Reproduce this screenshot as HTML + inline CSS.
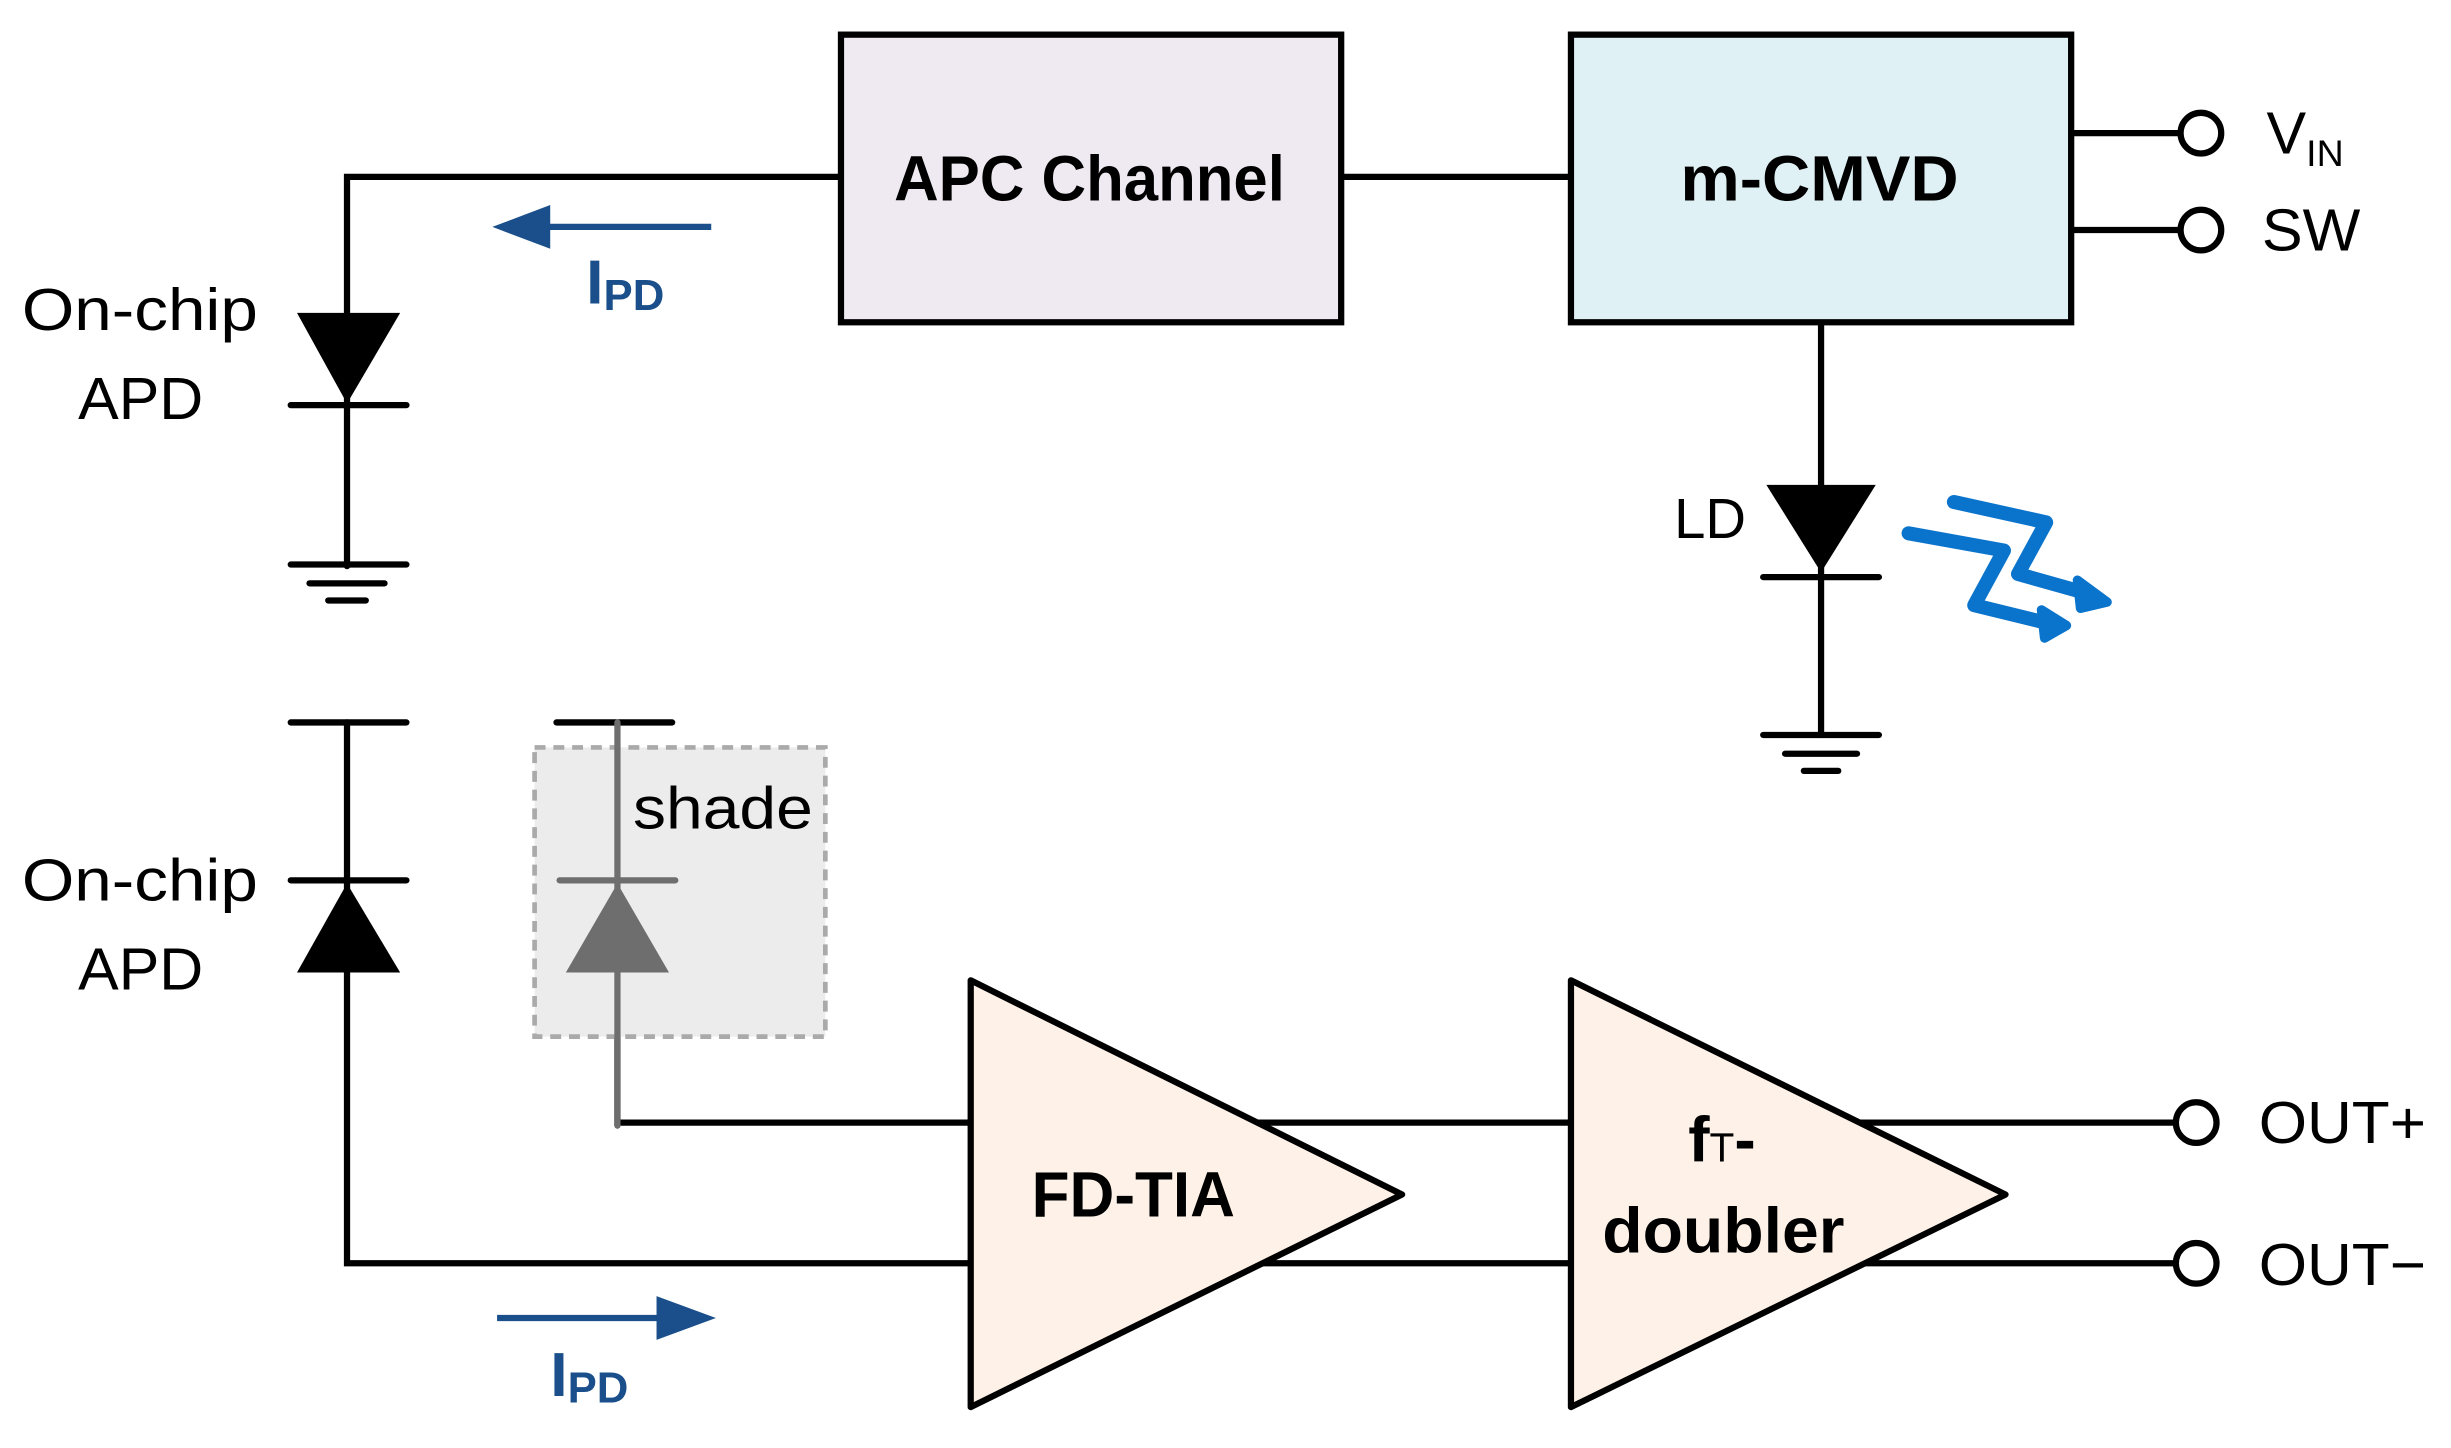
<!DOCTYPE html>
<html><head><meta charset="utf-8"><style>html,body{margin:0;padding:0;background:#fff}svg{display:block}</style></head><body>
<svg width="2451" height="1448" viewBox="0 0 1568 926" xmlns="http://www.w3.org/2000/svg" font-family="'Liberation Sans','DejaVu Sans',sans-serif">
<g stroke="#000" stroke-width="4" fill="none" stroke-linecap="round">
<polyline points="538,113 222,113 222,362"/>
<line x1="858" y1="113" x2="1005" y2="113"/>
<line x1="1325" y1="85" x2="1395" y2="85"/>
<line x1="1325" y1="147" x2="1395" y2="147"/>
<line x1="1165" y1="206" x2="1165" y2="470"/>
<line x1="186" y1="259" x2="260" y2="259"/>
<line x1="186" y1="361" x2="260" y2="361"/>
<line x1="198" y1="373" x2="246" y2="373"/>
<line x1="210" y1="384" x2="234" y2="384"/>
<line x1="1128" y1="369" x2="1202" y2="369"/>
<line x1="1128" y1="470" x2="1202" y2="470"/>
<line x1="1142" y1="482" x2="1188" y2="482"/>
<line x1="1154" y1="493" x2="1176" y2="493"/>
<line x1="186" y1="462" x2="260" y2="462"/>
<line x1="186" y1="563" x2="260" y2="563"/>
<polyline points="222,462 222,808 1392,808"/>
<polyline points="395,600 395,718 1392,718"/>
</g>
<polygon points="190,200 256,200 222,258" fill="#000"/>
<polygon points="1130,310 1200,310 1165,366" fill="#000"/>
<polygon points="190,622 256,622 222,565" fill="#000"/>
<rect x="342" y="478" width="186" height="185" fill="#ececec" stroke="#aaa" stroke-width="3" stroke-dasharray="7,5"/>
<g stroke="#6e6e6e" stroke-width="4" stroke-linecap="round">
<line x1="356" y1="462" x2="430" y2="462" stroke="#000"/>
<line x1="395" y1="462" x2="395" y2="720"/>
<line x1="358" y1="563" x2="432" y2="563"/>
</g>
<polygon points="362,622 428,622 395,565" fill="#6e6e6e"/>
<rect x="538" y="22" width="320" height="184" fill="#efeaf2" stroke="#000" stroke-width="4"/>
<rect x="1005" y="22" width="320" height="184" fill="#dff1f5" stroke="#000" stroke-width="4"/>
<polygon points="621,627 621,900 897,764" fill="#fdf1e8" stroke="#000" stroke-width="4" stroke-linejoin="round"/>
<polygon points="1005,627 1005,900 1283,764" fill="#fdf1e8" stroke="#000" stroke-width="4" stroke-linejoin="round"/>
<g fill="#fff" stroke="#000" stroke-width="4">
<circle cx="1408" cy="85" r="13"/><circle cx="1408" cy="147" r="13"/>
<circle cx="1405" cy="718" r="13"/><circle cx="1405" cy="808" r="13"/>
</g>
<g stroke="#1a4f8b" stroke-width="4" fill="#1a4f8b">
<line x1="455" y1="145" x2="335" y2="145"/>
<polygon points="315,145 352,131 352,159" stroke="none"/>
<line x1="318" y1="843" x2="440" y2="843"/>
<polygon points="458,843 420,829 420,857" stroke="none"/>
</g>
<g stroke="#0a74cc" stroke-width="9" fill="none" stroke-linecap="round" stroke-linejoin="round">
<polyline points="1221,341 1282,352 1263,387 1308,398"/>
<polyline points="1250,321 1309,334 1291,367 1330,378"/>
</g>
<polygon points="1306,390 1308,408 1322,400" fill="#0a74cc" stroke="#0a74cc" stroke-width="6" stroke-linejoin="round"/>
<polygon points="1329,371 1331,389 1348,385" fill="#0a74cc" stroke="#0a74cc" stroke-width="6" stroke-linejoin="round"/>
<g font-size="38" fill="#000">
<text x="14" y="211" textLength="151" lengthAdjust="spacingAndGlyphs">On-chip</text>
<text x="50" y="268" textLength="80" lengthAdjust="spacingAndGlyphs">APD</text>
<text x="14" y="576" textLength="151" lengthAdjust="spacingAndGlyphs">On-chip</text>
<text x="50" y="633" textLength="80" lengthAdjust="spacingAndGlyphs">APD</text>
<text x="1071" y="344" font-size="36">LD</text>
<text x="405" y="530" textLength="115" lengthAdjust="spacingAndGlyphs">shade</text>
<text x="1450" y="98">V<tspan font-size="24" dy="8">IN</tspan></text>
<text x="1447" y="160" textLength="63" lengthAdjust="spacingAndGlyphs">SW</text>
<text x="1445" y="731" textLength="107" lengthAdjust="spacingAndGlyphs">OUT+</text>
<text x="1445" y="822" textLength="107" lengthAdjust="spacingAndGlyphs">OUT−</text>
</g>
<g font-size="41" font-weight="bold" fill="#000">
<text x="572" y="128" textLength="250" lengthAdjust="spacingAndGlyphs">APC Channel</text>
<text x="1075" y="128" textLength="178" lengthAdjust="spacingAndGlyphs">m-CMVD</text>
<text x="660" y="778" textLength="130" lengthAdjust="spacingAndGlyphs">FD-TIA</text>
<text x="1080" y="743">f<tspan font-size="26" font-weight="normal">T</tspan>-</text>
<text x="1025" y="801" textLength="155" lengthAdjust="spacingAndGlyphs">doubler</text>
</g>
<g font-size="40" font-weight="bold" fill="#1a4f8b">
<text x="375" y="194">I<tspan font-size="28" dy="4">PD</tspan></text>
<text x="352" y="893">I<tspan font-size="28" dy="4">PD</tspan></text>
</g>
</svg>
</body></html>
